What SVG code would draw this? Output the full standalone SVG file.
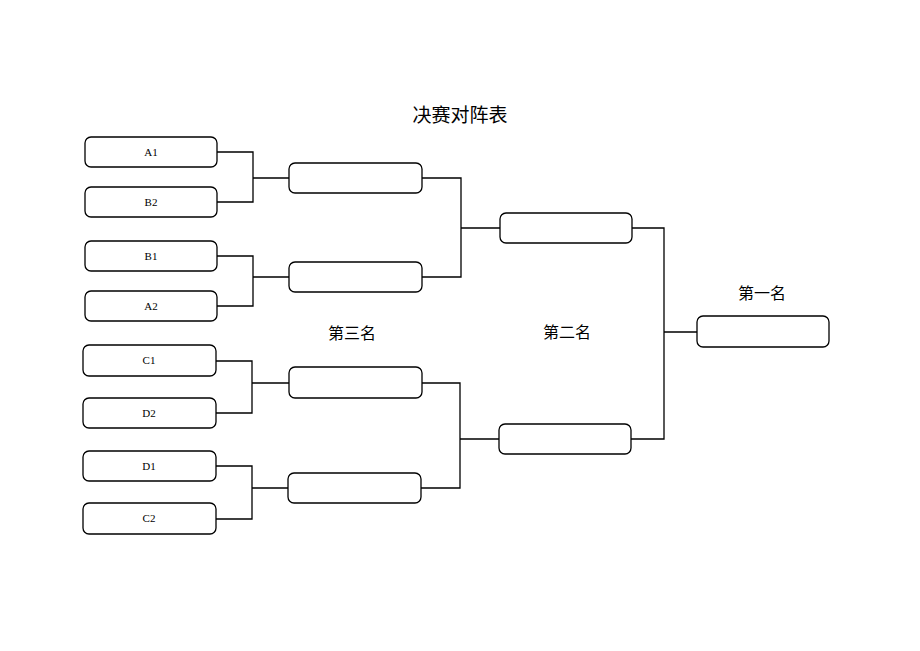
<svg xmlns="http://www.w3.org/2000/svg" width="920" height="651" viewBox="0 0 920 651">
<style>
.box{fill:#fff;stroke:#000;stroke-width:1.3}
.lbl{font-family:"Liberation Serif","Times New Roman",serif;font-size:11px;fill:#000;text-anchor:middle}
.cjk{font-family:"Liberation Sans","Noto Sans CJK SC",sans-serif;fill:#000;text-anchor:middle}
.ln{fill:none;stroke:#000;stroke-width:1.3}
</style>
<rect width="920" height="651" fill="#fff"/>
<text class="cjk" x="460" y="122" font-size="19">决赛对阵表</text>
<text class="cjk" x="762" y="299" font-size="16">第一名</text>
<text class="cjk" x="567" y="338" font-size="16">第二名</text>
<text class="cjk" x="352" y="339" font-size="16">第三名</text>
<g id="connectors">
<path class="ln" d="M217 152H253V202H217M253 178H289"/>
<path class="ln" d="M217 256H253V306H217M253 277H289"/>
<path class="ln" d="M216 361H252V413H216M252 383H289"/>
<path class="ln" d="M216 466H252V519H216M252 488H289"/>
<path class="ln" d="M422 178H461V277H422M461 228H500"/>
<path class="ln" d="M421 383H460V488H421M460 439H499"/>
<path class="ln" d="M632 228H664V439H631M664 332H697"/>
</g>
<g id="nA1"><rect class="box" x="85" y="137" width="132" height="30" rx="6"/><text class="lbl" x="151" y="156">A1</text></g>
<g id="nB2"><rect class="box" x="85" y="187" width="132" height="30" rx="6"/><text class="lbl" x="151" y="206">B2</text></g>
<g id="nB1"><rect class="box" x="85" y="241" width="132" height="30" rx="6"/><text class="lbl" x="151" y="260">B1</text></g>
<g id="nA2"><rect class="box" x="85" y="291" width="132" height="30" rx="6"/><text class="lbl" x="151" y="310">A2</text></g>
<g id="nC1"><rect class="box" x="83" y="345" width="133" height="31" rx="6"/><text class="lbl" x="149" y="364">C1</text></g>
<g id="nD2"><rect class="box" x="83" y="398" width="133" height="30" rx="6"/><text class="lbl" x="149" y="417">D2</text></g>
<g id="nD1"><rect class="box" x="83" y="451" width="133" height="30" rx="6"/><text class="lbl" x="149" y="470">D1</text></g>
<g id="nC2"><rect class="box" x="83" y="503" width="133" height="31" rx="6"/><text class="lbl" x="149" y="522">C2</text></g>
<g id="r2a"><rect class="box" x="289" y="163" width="133" height="30" rx="6"/></g>
<g id="r2b"><rect class="box" x="289" y="262" width="133" height="30" rx="6"/></g>
<g id="r2c"><rect class="box" x="289" y="367" width="133" height="31" rx="6"/></g>
<g id="r2d"><rect class="box" x="288" y="473" width="133" height="30" rx="6"/></g>
<g id="r3a"><rect class="box" x="500" y="213" width="132" height="30" rx="6"/></g>
<g id="r3b"><rect class="box" x="499" y="424" width="132" height="30" rx="6"/></g>
<g id="final"><rect class="box" x="697" y="316" width="132" height="31" rx="6"/></g>
</svg>
